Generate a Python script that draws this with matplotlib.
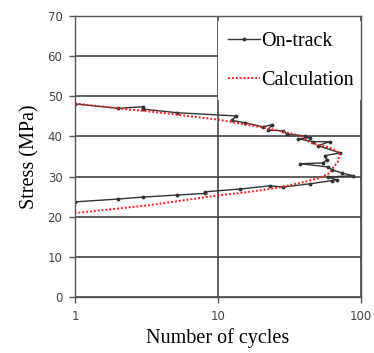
import matplotlib.pyplot as plt
from matplotlib.ticker import FixedLocator, NullLocator

# -------- Data --------
ontrack_cycles = [1, 2.0, 3.0, 3.0, 5.2, 13.4, 12.5, 15.4, 20.6, 23.8, 22.4, 28.5,
                  30.4, 40.6, 44, 36.3, 46, 60.7, 50, 71.4, 55.7, 57.6, 54.5, 37.5,
                  58.8, 62.7, 73.5, 88, 58.8, 67.6, 62.7, 44, 28.5, 23, 14.3, 8.1,
                  8.1, 5.2, 3.0, 2.0, 1]
ontrack_stress = [48.1, 47.0, 47.4, 46.8, 45.9, 45.1, 44.0, 43.4, 42.4, 42.9, 41.6, 41.4,
                  40.6, 40.1, 39.7, 39.4, 38.7, 38.7, 37.7, 35.9, 35.2, 34.2, 33.4, 33.2,
                  32.4, 31.7, 30.9, 30.2, 29.9, 29.2, 29.0, 28.2, 27.4, 27.7, 26.9, 26.2,
                  25.8, 25.4, 24.9, 24.4, 23.7]

calc_cycles = [1, 2, 4, 10, 20, 27, 39.5, 44, 60.7, 71.3, 69, 63.7, 60.7, 51.7,
               37.4, 25.9, 16.7, 10, 3.35, 1]
calc_stress = [48.2, 47.0, 45.9, 44.2, 42.3, 41.4, 40.0, 38.4, 37.2, 35.9, 33.7, 32.2,
               30.9, 29.7, 28.4, 27.2, 26.2, 25.3, 22.9, 20.9]

x_ticks = [1, 10, 100]
x_labels = ['1', '10', '100']
y_ticks = [0, 10, 20, 30, 40, 50, 60, 70]

# -------- Plot --------
fig = plt.figure(figsize=(3.74, 3.53), dpi=100)
ax = fig.add_axes([0.2005, 0.1586, 0.7646, 0.7961])

ax.set_xscale('log')
ax.set_xlim(1, 100)
ax.set_ylim(0, 70)

ax.plot(ontrack_cycles, ontrack_stress, color='#333333', lw=1.0,
        marker='o', ms=1.8, label='On-track', zorder=3)
ax.plot(calc_cycles, calc_stress, color='#ff2020', lw=1.4, ls=(0, (1, 1)),
        label='Calculation', zorder=4)

ax.xaxis.set_major_locator(FixedLocator(x_ticks))
ax.xaxis.set_minor_locator(NullLocator())
ax.set_xticks(x_ticks)
ax.set_xticklabels(x_labels)
ax.set_yticks(y_ticks)

ax.grid(True, color='#444444', lw=1.2, zorder=1)
ax.set_axisbelow(True)
for s in ax.spines.values():
    s.set_color('#555555')
    s.set_linewidth(1.0)
    s.set_zorder(6)

ax.tick_params(direction='out', length=4, width=1, color='#555555',
               labelsize=8.5, labelcolor='#444444', pad=5)

serif = ['Liberation Serif', 'DejaVu Serif']
ax.set_xlabel('Number of cycles', family=serif, fontsize=14.5, labelpad=4)
ax.set_ylabel('Stress (MPa)', family=serif, fontsize=14.5, labelpad=6)

leg = ax.legend(loc='upper right', bbox_to_anchor=(1.025, 0.995),
                prop={'family': serif, 'size': 14.5}, frameon=True,
                facecolor='white', edgecolor='none', framealpha=1,
                handlelength=1.6, handletextpad=0.05, borderaxespad=0.2,
                borderpad=0.5, labelspacing=1.0, fancybox=False)
leg.set_zorder(5)

plt.savefig('out.png', dpi=100)
